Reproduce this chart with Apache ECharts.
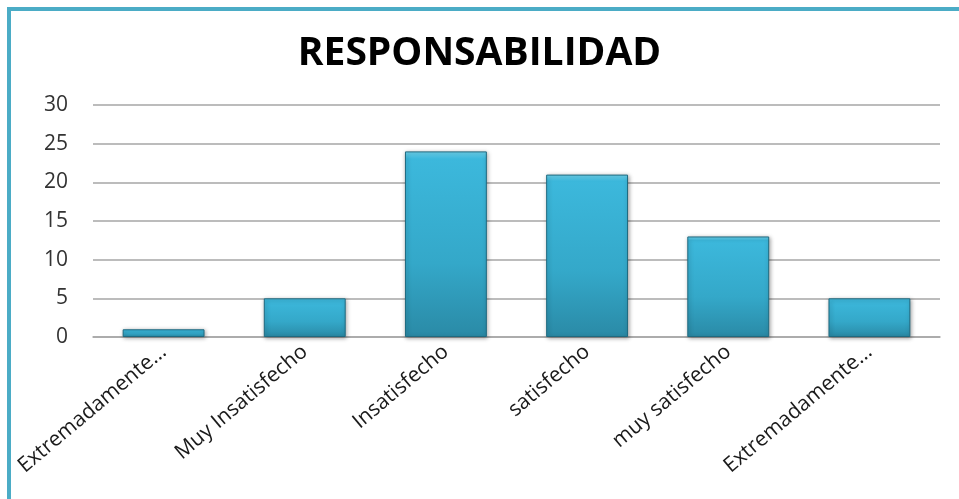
<!DOCTYPE html>
<html>
<head>
<meta charset="utf-8">
<script src="https://cdn.jsdelivr.net/npm/echarts@6/dist/echarts.min.js"></script>
<style>
html,body{margin:0;padding:0;background:#fff;}
#c{width:959px;height:499px;}
</style>
</head>
<body>
<div id="c"></div>
<script>
const titleText = 'RESPONSABILIDAD';
const categories = ['Extremadamente...', 'Muy Insatisfecho', 'Insatisfecho', 'satisfecho', 'muy satisfecho', 'Extremadamente...'];
const values = [1, 5, 24, 21, 13, 5];
const yTicks = { min: 0, max: 30, interval: 5 };

const chart = echarts.init(document.getElementById('c'), null, { renderer: 'canvas' });
chart.setOption({
  animation: false,
  backgroundColor: '#ffffff',
  title: {
    text: titleText,
    left: 'center',
    top: 29,
    textStyle: { fontFamily: 'Open Sans', fontWeight: 'bold', fontSize: 39, color: '#000' }
  },
  graphic: [
    { type: 'polyline', shape: { points: [[9, 499], [9, 9], [959, 9]] }, style: { stroke: '#4bacc6', lineWidth: 4, fill: null } }
  ],
  grid: { left: 93, right: 19, top: 105, bottom: 162, containLabel: false },
  xAxis: {
    type: 'category',
    data: categories,
    axisLine: { show: true, lineStyle: { color: '#a6a6a6', width: 1.5 } },
    axisTick: { show: false },
    axisLabel: { rotate: 40, interval: 0, margin: 12, fontFamily: 'Open Sans', fontSize: 21, color: '#1a1a1a' }
  },
  yAxis: {
    type: 'value',
    min: yTicks.min, max: yTicks.max, interval: yTicks.interval,
    axisLine: { show: false },
    axisTick: { show: false },
    splitLine: { lineStyle: { color: '#a6a6a6', width: 1.5 } },
    axisLabel: { margin: 25, fontFamily: 'Open Sans', fontSize: 21, color: '#333' }
  },
  series: [{
    type: 'bar',
    data: values,
    barWidth: '58%',
    itemStyle: {
      color: new echarts.graphic.LinearGradient(0, 0, 0, 1, [
        { offset: 0, color: '#6fd6f0' },
        { offset: 0.04, color: '#3cb8dc' },
        { offset: 0.6, color: '#34a8c9' },
        { offset: 1, color: '#2a8aa6' }
      ]),
      borderColor: '#1f6a80',
      borderWidth: 1,
      shadowColor: 'rgba(0,0,0,0.35)',
      shadowBlur: 4,
      shadowOffsetX: 1,
      shadowOffsetY: 1
    }
  }]
});
</script>
</body>
</html>
